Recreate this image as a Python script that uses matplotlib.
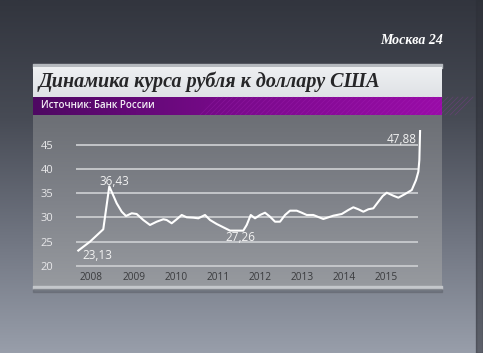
import numpy as np
import matplotlib.pyplot as plt
from matplotlib.colors import LinearSegmentedColormap

# USD/RUB rate
years = [2007.686, 2007.964, 2008.28, 2008.423, 2008.599, 2008.718, 2008.82, 2008.956,
         2009.074, 2009.231, 2009.39, 2009.55, 2009.707, 2009.787, 2009.906, 2010.025,
         2010.144, 2010.263, 2010.42, 2010.539, 2010.698, 2010.817, 2010.976, 2011.133,
         2011.292, 2011.608, 2011.689, 2011.784, 2011.886, 2012.005, 2012.124, 2012.243,
         2012.362, 2012.481, 2012.6, 2012.718, 2012.878, 2012.996, 2013.115, 2013.272,
         2013.431, 2013.51, 2013.748, 2013.947, 2014.104, 2014.223, 2014.342, 2014.461,
         2014.58, 2014.698, 2014.817, 2014.922, 2015.017, 2015.174, 2015.293, 2015.452,
         2015.611, 2015.713, 2015.768, 2015.792, 2015.809]
rate = [23.13, 24.97, 27.54, 36.43, 32.92, 31.18, 30.29, 30.85,
        30.70, 29.46, 28.43, 29.11, 29.61, 29.46, 28.78, 29.61,
        30.50, 30.02, 29.94, 29.81, 30.50, 29.46, 28.63, 27.95,
        27.26, 27.26, 28.43, 30.50, 29.81, 30.50, 30.97, 30.14,
        29.11, 29.11, 30.50, 31.39, 31.39, 30.97, 30.50, 30.50,
        29.94, 29.67, 30.35, 30.70, 31.53, 32.09, 31.68, 31.18,
        31.68, 31.88, 33.25, 34.43, 35.11, 34.49, 34.08, 34.84,
        35.67, 37.74, 39.46, 41.88, 47.88]
year_ticks = [2008, 2009, 2010, 2011, 2012, 2013, 2014, 2015]
rate_ticks = [20, 25, 30, 35, 40, 45]
title = "Динамика курса рубля к доллару США"
source = "Источник: Банк России"
channel = "Москва 24"

W, H = 483, 353
fig = plt.figure(figsize=(W / 100, H / 100), dpi=100)

# background layer in pixel coordinates
bg = fig.add_axes([0, 0, 1, 1])
bg.set_xlim(0, W)
bg.set_ylim(H, 0)
bg.axis("off")

grad = np.linspace(0, 1, 256).reshape(-1, 1)
backcm = LinearSegmentedColormap.from_list("back", ["#32353e", "#474b55", "#6f7480", "#989eaa"])
bg.imshow(grad, cmap=backcm, extent=[0, W, H, 0], aspect="auto", zorder=0)
bg.fill_between([476, W], 0, H, color="#2e3038", alpha=0.55, zorder=1)

# panel
bg.fill_between([33, 442], 64, 68, color="#b4b8bd", zorder=2)
whitecm = LinearSegmentedColormap.from_list("white", ["#eef0f2", "#dfe2e6"])
bg.imshow(grad, cmap=whitecm, extent=[33, 442, 97, 67], aspect="auto", zorder=2)
purple = np.linspace(0, 1, 256).reshape(1, -1)
purplecm = LinearSegmentedColormap.from_list("purple", ["#4e0862", "#7a0a8c", "#9a0ca8"])
bg.imshow(purple, cmap=purplecm, extent=[33, 442, 115, 97], aspect="auto", zorder=2)
for x0 in range(200, 460, 5):
    bg.plot([x0, x0 + 18], [115, 97], color="#b030c0", lw=0.6, alpha=0.25, zorder=3)
chartcm = LinearSegmentedColormap.from_list("chart", ["#6c6f75", "#80838a", "#979a9f"])
bg.imshow(grad, cmap=chartcm, extent=[33, 442, 287, 115], aspect="auto", zorder=2)
bg.fill_between([33, 442], 286, 289, color="#c4c7cb", zorder=3)
bg.fill_between([33, 442], 289, 292, color="#5e626b", alpha=0.5, zorder=3)
bg.set_xlim(0, W)
bg.set_ylim(H, 0)

bg.text(39, 82, title, fontsize=14.5, family="Liberation Serif", style="italic",
        weight="bold", color="#262628", va="center", ha="left", zorder=4)
bg.text(41, 105.5, source, fontsize=7, family="Open Sans", weight="semibold",
        color="#f4f0f6", va="center", ha="left", zorder=4)
bg.text(443, 40, channel, fontsize=10, family="Liberation Serif", style="italic",
        weight="bold", color="white", va="center", ha="right", zorder=4)

# chart
x0, x1 = 2007.62, 2015.85
y0, y1 = 18.9, 50
ax = fig.add_axes([75.5 / W, 1 - 271.0 / H, (421.8 - 75.5) / W, (271.0 - 120.8) / H])
ax.set_xlim(x0, x1)
ax.set_ylim(y0, y1)
ax.patch.set_alpha(0)
for s in ax.spines.values():
    s.set_visible(False)

ax.hlines(rate_ticks, 2007.63, 2015.76, color="#c9cbce", lw=1.3, zorder=1)
ax.plot(years, rate, color="white", lw=1.5, zorder=3, solid_joinstyle="round")

ax.set_yticks(rate_ticks)
ax.set_yticklabels([str(t) for t in rate_ticks])
ax.set_xticks(year_ticks)
ax.set_xticklabels([str(t) for t in year_ticks])
ax.tick_params(axis="y", length=0, pad=16, labelsize=8, labelcolor="#e8e8ea")
ax.tick_params(axis="x", length=0, pad=1, labelsize=7.3, labelcolor="#3a3b3e")
for lab in ax.get_xticklabels() + ax.get_yticklabels():
    lab.set_family("Open Sans")

def fmt(v):
    return f"{v:.2f}".replace(".", ",")

lab_kw = dict(textcoords="offset points", fontsize=8.5, family="Open Sans",
              color="#f2f2f2", va="center", zorder=4)
i_min = rate.index(min(rate[:5]))
ax.annotate(fmt(rate[i_min]), xy=(years[i_min], rate[i_min]), xytext=(14, -3.9), ha="center", **lab_kw)
i_max = rate.index(max(rate[:10]))
ax.annotate(fmt(rate[i_max]), xy=(years[i_max], rate[i_max]), xytext=(3.4, 3.8), ha="center", **lab_kw)
i_low = 25
ax.annotate(fmt(rate[i_low]), xy=(years[i_low], rate[i_low]), xytext=(-2.4, -4.6), ha="center", **lab_kw)
ax.annotate(fmt(rate[-1]), xy=(years[-1], rate[-1]), xytext=(-2.2, -5.8), ha="right", **lab_kw)

fig.savefig("out.png", dpi=100)
